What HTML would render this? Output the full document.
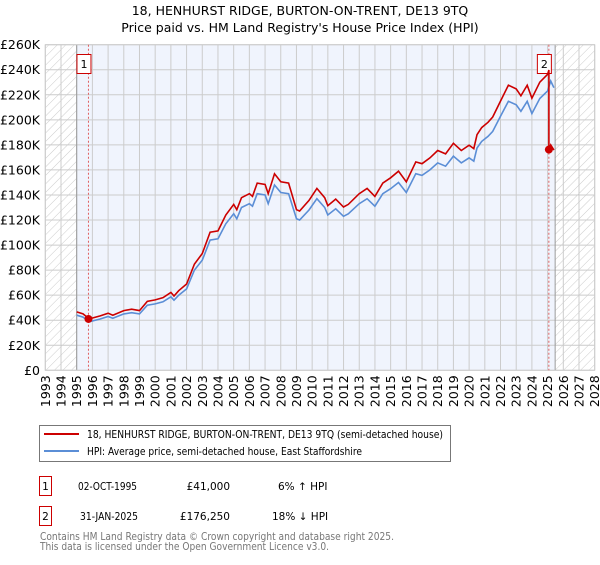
<!DOCTYPE html>
<html><head><meta charset="utf-8">
<style>
body{margin:0;background:#fff;font-family:"Liberation Sans","DejaVu Sans",sans-serif;}
svg text{font-family:"DejaVu Sans","Liberation Sans",sans-serif;}
</style></head>
<body>
<svg id="chart" width="600" height="560" viewBox="0 0 600 560" xmlns="http://www.w3.org/2000/svg">
<defs>
<pattern id="hatch" width="6" height="6" patternUnits="userSpaceOnUse" patternTransform="rotate(45)">
<line x1="0" y1="0" x2="0" y2="6" stroke="#ccc" stroke-width="1"/>
</pattern>
</defs>
<text x="300" y="15" text-anchor="middle" font-size="12.5" fill="#000">18, HENHURST RIDGE, BURTON-ON-TRENT, DE13 9TQ</text>
<text x="300" y="32" text-anchor="middle" font-size="12.5" fill="#000">Price paid vs. HM Land Registry's House Price Index (HPI)</text>
<g id="plot"></g>
<g>
<rect x="39.5" y="425.5" width="411" height="36" fill="#fff" stroke="#777"/>
<line x1="44" y1="434" x2="79" y2="434" stroke="#cc0000" stroke-width="2"/>
<text x="87" y="438" font-size="10.5" textLength="356" lengthAdjust="spacingAndGlyphs">18, HENHURST RIDGE, BURTON-ON-TRENT, DE13 9TQ (semi-detached house)</text>
<line x1="44" y1="451" x2="79" y2="451" stroke="#5b8ed6" stroke-width="2"/>
<text x="87" y="455" font-size="10.5" textLength="275" lengthAdjust="spacingAndGlyphs">HPI: Average price, semi-detached house, East Staffordshire</text>
</g>
<g>
<rect x="39.5" y="476.5" width="12" height="19" fill="#fff" stroke="#cc0000"/>
<text x="45.5" y="490" font-size="10.5" text-anchor="middle">1</text>
<text x="78" y="490" font-size="10.5" textLength="59" lengthAdjust="spacingAndGlyphs">02-OCT-1995</text>
<text x="230" y="490" font-size="10.5" text-anchor="end">£41,000</text>
<text x="278" y="490" font-size="10.5">6% ↑ HPI</text>
<rect x="39.5" y="506.5" width="12" height="19" fill="#fff" stroke="#cc0000"/>
<text x="45.5" y="520" font-size="10.5" text-anchor="middle">2</text>
<text x="80" y="520" font-size="10.5" textLength="58" lengthAdjust="spacingAndGlyphs">31-JAN-2025</text>
<text x="230" y="520" font-size="10.5" text-anchor="end">£176,250</text>
<text x="272" y="520" font-size="10.5">18% ↓ HPI</text>
</g>
<text x="40" y="540" font-size="10.5" fill="#777" textLength="354" lengthAdjust="spacingAndGlyphs">Contains HM Land Registry data © Crown copyright and database right 2025.</text>
<text x="40" y="550" font-size="10.5" fill="#777" textLength="289" lengthAdjust="spacingAndGlyphs">This data is licensed under the Open Government Licence v3.0.</text>
</svg>
<script>
const years=[1995.0,1995.4,1995.8,1996.5,1997.0,1997.3,1998.0,1998.5,1999.0,1999.5,2000.0,2000.5,2001.0,2001.2,2001.5,2002.0,2002.5,2003.0,2003.5,2004.0,2004.5,2005.0,2005.2,2005.5,2006.0,2006.2,2006.5,2007.0,2007.2,2007.6,2008.0,2008.5,2009.0,2009.2,2009.8,2010.3,2010.8,2011.0,2011.5,2012.0,2012.3,2013.0,2013.5,2014.0,2014.5,2015.0,2015.5,2016.0,2016.6,2017.0,2017.5,2018.0,2018.5,2019.0,2019.5,2020.0,2020.3,2020.5,2020.8,2021.2,2021.5,2022.0,2022.5,2023.0,2023.3,2023.7,2024.0,2024.5,2025.0,2025.2,2025.4];
const hpi=[44,42.5,38.7,41,43,41.5,45,46,45,52,53,54.7,58.7,56,60,65,80,88,104,105,117,125,121,130,133,131,141,140,133,148,142,141,121,120,128,137,130,124,129,123,125,133,137,131,141,145,150,142,157,155.6,160,165.6,163,171,165.6,169.6,167,177.5,182.8,186.8,190.8,202.8,214.8,212,206.8,214.8,205,217,223,231,225.7];
const sales=[[1995.75,41],[2025.08,176.25]];
const yTicks=[0,20,40,60,80,100,120,140,160,180,200,220,240,260];
const xYears=[1993,1994,1995,1996,1997,1998,1999,2000,2001,2002,2003,2004,2005,2006,2007,2008,2009,2010,2011,2012,2013,2014,2015,2016,2017,2018,2019,2020,2021,2022,2023,2024,2025,2026,2027,2028];
const NS='http://www.w3.org/2000/svg';
const X0=45.3,X1=594.7,Y0=370.3,Y1=44.7;
const xs=t=>X0+(t-1993)/35*(X1-X0);
const ys=v=>Y0-v/260*(Y0-Y1);
const g=document.getElementById('plot');
function mk(tag,attrs,parent){const e=document.createElementNS(NS,tag);for(const k in attrs)e.setAttribute(k,attrs[k]);(parent||g).appendChild(e);return e;}
let e;
e=mk('rect',{x:X0,y:Y1,width:X1-X0,height:Y0-Y1,fill:'#fff'});
e=mk('rect',{x:xs(1995),y:Y1,width:xs(2025.48)-xs(1995),height:Y0-Y1,fill:'#f0f4fd'});


e=mk('rect',{x:X0,y:Y1,width:xs(1995)-X0,height:Y0-Y1,fill:'url(#hatch)'});


e=mk('rect',{x:xs(2025.48),y:Y1,width:X1-xs(2025.48),height:Y0-Y1,fill:'url(#hatch)'});


yTicks.forEach(v=>{
  mk('line',{x1:X0,x2:X1,y1:ys(v),y2:ys(v),stroke:'#ccc','stroke-width':1});
  const t=mk('text',{x:40,y:ys(v)+4.5,'text-anchor':'end','font-size':12.5});
  t.textContent=v===0?'£0':'£'+v+'K';
  
  
});
xYears.forEach(yr=>{
  mk('line',{x1:xs(yr),x2:xs(yr),y1:Y1,y2:Y0,stroke:'#ccc','stroke-width':1});
  const t=mk('text',{x:0,y:0,'font-size':12.5,'text-anchor':'end',transform:`translate(${xs(yr)+4.5},${Y0+5}) rotate(-90)`});
  t.textContent=yr;
  
  
});
mk('line',{x1:xs(1995),x2:xs(1995),y1:Y1,y2:Y0,stroke:'#999','stroke-width':1});
mk('line',{x1:xs(2025.48),x2:xs(2025.48),y1:Y1,y2:Y0,stroke:'#999','stroke-width':1});
mk('rect',{x:X0,y:Y1,width:X1-X0,height:Y0-Y1,fill:'none',stroke:'#ccc'});
sales.forEach((s,i)=>{
  const l=mk('line',{x1:xs(s[0]),x2:xs(s[0]),y1:Y1,y2:Y0,stroke:'#e06060','stroke-width':1,'stroke-dasharray':'2,2'});
  
  
  const b=mk('rect',{x:xs(s[0])-11.5,y:54.5,width:14,height:19,fill:'#fff',stroke:'#cc0000'});
  
  
  const t=mk('text',{x:xs(s[0])-4.5,y:68,'text-anchor':'middle','font-size':11});
  t.textContent=String(i+1);
});
const hp=years.map((t,i)=>(i?'L':'M')+xs(t).toFixed(1)+','+ys(hpi[i]).toFixed(1)).join('');
e=mk('path',{d:hp,fill:'none',stroke:'#5b8ed6','stroke-width':1.6});


function hpiAt(t){for(let i=1;i<years.length;i++){if(t<=years[i]){const f=(t-years[i-1])/(years[i]-years[i-1]);return hpi[i-1]+f*(hpi[i]-hpi[i-1]);}}return hpi[hpi.length-1];}
const r1=1.06, r2=sales[1][1]/hpiAt(sales[1][0]);
let pts=[];
years.forEach((t,i)=>{ if(t<sales[1][0]) pts.push([t,hpi[i]*r1]); });
pts.push([sales[1][0],hpiAt(sales[1][0])*r1]);
pts.push([sales[1][0],sales[1][1]]);
years.forEach((t,i)=>{ if(t>sales[1][0]) pts.push([t,hpi[i]*r2]); });
const rp=pts.map((p,i)=>(i?'L':'M')+xs(p[0]).toFixed(1)+','+ys(p[1]).toFixed(1)).join('');
e=mk('path',{d:rp,fill:'none',stroke:'#cc0000','stroke-width':1.6});


sales.forEach(s=>{
  const c=mk('circle',{cx:xs(s[0]),cy:ys(s[1]),r:4,fill:'#cc0000'});
  
  
});
</script>
</body></html>
